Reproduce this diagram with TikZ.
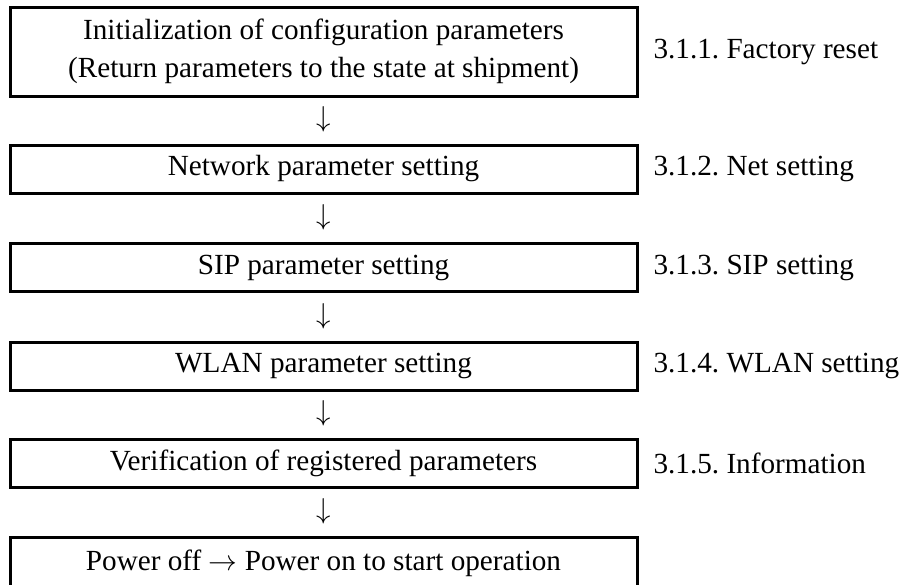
\documentclass[tikz,border=0pt]{standalone}
\usepackage{fontspec}
\setmainfont{Liberation Serif}
\usepackage{tikz}
\frenchspacing

\begin{document}
\begin{tikzpicture}
            [x=0.5pt, y=-0.5pt, line width=1.5pt, font=\fontsize{14.6}{19}\selectfont,
             stepbox/.style={shape=rectangle, draw=black, minimum width=313.5pt, align=center, inner sep=0pt},
             down/.style={inner sep=0pt},
             ref/.style={anchor=west, inner sep=0pt}]
            \useasboundingbox (0, 0) rectangle (903, 584);
            \node[stepbox, minimum height=44.25pt] (init) at (323.5, 51.75) {Initialization of configuration parameters\\(Return parameters to the state at shipment)};
            \node[stepbox, minimum height=24pt] (net) at (323.5, 169) {Network parameter setting};
            \node[stepbox, minimum height=24pt] (sip) at (323.5, 267.5) {SIP parameter setting};
            \node[stepbox, minimum height=24pt] (wlan) at (323.5, 366) {WLAN parameter setting};
            \node[stepbox, minimum height=24pt] (verify) at (323.5, 463) {Verification of registered parameters};
            \node[stepbox, minimum height=26pt] (power) at (323.5, 563) {Power off $\rightarrow$ Power on to start operation};

            \node[down] (a1) at (323.5, 119) {$\downarrow$};
            \node[down] (a2) at (323.5, 217) {$\downarrow$};
            \node[down] (a3) at (323.5, 316) {$\downarrow$};
            \node[down] (a4) at (323.5, 413.5) {$\downarrow$};
            \node[down] (a5) at (323.5, 511) {$\downarrow$};

            \node[ref] (initref) at (652, 51.75) {3.1.1. Factory reset};
            \node[ref] (netref) at (652, 169) {3.1.2. Net setting};
            \node[ref] (sipref) at (652, 267.5) {3.1.3. SIP setting};
            \node[ref] (wlanref) at (652, 366) {3.1.4. WLAN setting};
            \node[ref] (verifyref) at (652, 463) {3.1.5. Information};
        \end{tikzpicture}
\end{document}
